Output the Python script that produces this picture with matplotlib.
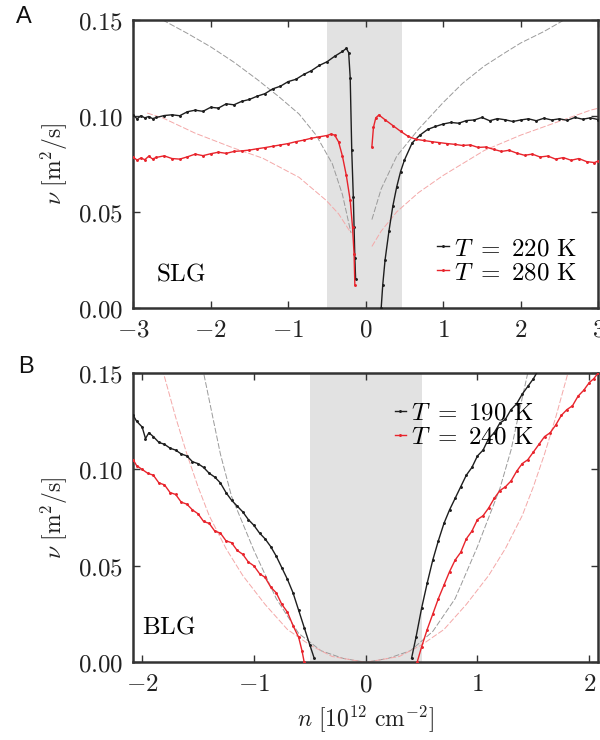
import matplotlib
matplotlib.use("Agg")
import matplotlib.pyplot as plt
from matplotlib.ticker import FuncFormatter, FixedLocator

plt.rcParams['mathtext.fontset'] = 'cm'
plt.rcParams['font.family'] = ['DejaVu Sans']

# ---------------- Panel A (SLG) ----------------
a_blk_left_x = [-3.0, -2.95, -2.9, -2.85, -2.8, -2.75, -2.7, -2.6, -2.5, -2.4, -2.3, -2.2, -2.1, -2.0,
                -1.9, -1.8, -1.7, -1.6, -1.5, -1.4, -1.3, -1.2, -1.1, -1.0, -0.9, -0.8, -0.7, -0.6,
                -0.5, -0.4, -0.3, -0.25, -0.22, -0.20, -0.18, -0.16, -0.15, -0.14, -0.13]
a_blk_left_y = [0.1005, 0.0985, 0.1001, 0.0990, 0.0997, 0.0986, 0.0992, 0.1002, 0.1006, 0.1001, 0.1022,
                0.1030, 0.1024, 0.1045, 0.1041, 0.1063, 0.1058, 0.1076, 0.1086, 0.1103, 0.1116,
                0.1141, 0.1155, 0.1179, 0.1191, 0.1216, 0.1236, 0.1263, 0.1282, 0.1311, 0.1336,
                0.1352, 0.1330, 0.1200, 0.0820, 0.0580, 0.0420, 0.0260, 0.0150]
a_blk_right_x = [0.20, 0.22, 0.25, 0.30, 0.35, 0.40, 0.45, 0.50, 0.60, 0.70, 0.80, 0.90, 1.0, 1.1, 1.2,
                 1.3, 1.4, 1.5, 1.6, 1.7, 1.8, 1.9, 2.0, 2.1, 2.2, 2.3, 2.4, 2.5, 2.6, 2.7, 2.8, 2.9, 3.0]
a_blk_right_y = [0.0000, 0.0120, 0.0250, 0.0400, 0.0530, 0.0630, 0.0710, 0.0770, 0.0860, 0.0900, 0.0930,
                 0.0945, 0.0958, 0.0966, 0.0962, 0.0976, 0.0979, 0.0992, 0.0975, 0.0986, 0.0980, 0.0971,
                 0.0979, 0.0985, 0.0975, 0.0988, 0.0979, 0.0985, 0.0977, 0.0992, 0.0983, 0.0990, 0.0981]
a_red_left_x = [-3.0, -2.95, -2.9, -2.85, -2.8, -2.75, -2.7, -2.6, -2.5, -2.4, -2.3, -2.2, -2.1, -2.0,
                -1.9, -1.8, -1.7, -1.6, -1.5, -1.4, -1.3, -1.2, -1.1, -1.0, -0.9, -0.8, -0.7, -0.6,
                -0.5, -0.45, -0.40, -0.35, -0.30, -0.25, -0.20, -0.17, -0.15, -0.14]
a_red_left_y = [0.0785, 0.0770, 0.0781, 0.0772, 0.0790, 0.0776, 0.0784, 0.0792, 0.0778, 0.0775, 0.0787,
                0.0801, 0.0793, 0.0803, 0.0811, 0.0805, 0.0815, 0.0818, 0.0822, 0.0829, 0.0835,
                0.0842, 0.0849, 0.0856, 0.0866, 0.0874, 0.0884, 0.0891, 0.0898, 0.0905, 0.0900,
                0.0865, 0.0790, 0.0690, 0.0560, 0.0420, 0.0280, 0.0120]
a_red_right_x = [0.08, 0.10, 0.13, 0.17, 0.25, 0.35, 0.45, 0.55, 0.65, 0.75, 0.85, 0.95, 1.05, 1.15,
                 1.25, 1.35, 1.45, 1.55, 1.65, 1.75, 1.85, 1.95, 2.05, 2.15, 2.25, 2.35, 2.45, 2.55,
                 2.65, 2.75, 2.85, 2.95, 3.0]
a_red_right_y = [0.0840, 0.0940, 0.0990, 0.1005, 0.0980, 0.0950, 0.0920, 0.0893, 0.0878, 0.0872, 0.0866,
                 0.0861, 0.0856, 0.0852, 0.0846, 0.0849, 0.0836, 0.0838, 0.0826, 0.0815, 0.0821, 0.0806,
                 0.0795, 0.0801, 0.0786, 0.0791, 0.0775, 0.0783, 0.0769, 0.0778, 0.0762, 0.0757, 0.0765]
# theory curves (panel A)
a_thb_left_x = [-2.62, -2.3, -2.0, -1.7, -1.4, -1.12, -0.86, -0.64, -0.43, -0.3, -0.19]
a_thb_left_y = [0.150, 0.143, 0.136, 0.128, 0.119, 0.110, 0.101, 0.090, 0.075, 0.059, 0.039]
a_thb_right_x = [0.08, 0.2, 0.4, 0.68, 1.0, 1.25, 1.53, 1.8, 2.0, 2.3, 2.56, 2.8]
a_thb_right_y = [0.046, 0.062, 0.079, 0.093, 0.107, 0.117, 0.126, 0.133, 0.138, 0.144, 0.150, 0.155]
a_thr_left_x = [-2.82, -2.62, -2.2, -1.72, -1.33, -0.86, -0.51, -0.35, -0.19]
a_thr_left_y = [0.1015, 0.0990, 0.0910, 0.0835, 0.0780, 0.0680, 0.0560, 0.0490, 0.0390]
a_thr_right_x = [0.08, 0.2, 0.4, 0.68, 1.0, 1.53, 2.0, 2.38, 2.9, 3.0]
a_thr_right_y = [0.032, 0.040, 0.050, 0.060, 0.069, 0.082, 0.090, 0.0955, 0.103, 0.104]

# ---------------- Panel B (BLG) ----------------
b_blk_left_x = [-2.08, -2.05, -2.0, -1.97, -1.94, -1.9, -1.85, -1.8, -1.75, -1.7, -1.65, -1.6, -1.55,
                -1.5, -1.45, -1.4, -1.35, -1.3, -1.25, -1.2, -1.15, -1.1, -1.05, -1.0, -0.95, -0.9,
                -0.85, -0.8, -0.75, -0.7, -0.65, -0.6, -0.55, -0.5, -0.46]
b_blk_left_y = [0.128, 0.125, 0.122, 0.116, 0.119, 0.117, 0.114, 0.113, 0.111, 0.110, 0.108, 0.107,
                0.104, 0.103, 0.101, 0.098, 0.096, 0.093, 0.088, 0.084, 0.081, 0.078, 0.074, 0.071,
                0.067, 0.064, 0.060, 0.055, 0.049, 0.043, 0.036, 0.027, 0.018, 0.009, 0.002]
b_blk_right_x = [0.41, 0.45, 0.50, 0.55, 0.60, 0.65, 0.70, 0.75, 0.80, 0.85, 0.90, 0.95, 1.0, 1.05,
                 1.1, 1.15, 1.2, 1.25, 1.3, 1.35, 1.4, 1.45, 1.5, 1.55]
b_blk_right_y = [0.002, 0.013, 0.028, 0.041, 0.053, 0.063, 0.072, 0.079, 0.085, 0.091, 0.097, 0.101,
                 0.107, 0.110, 0.116, 0.119, 0.124, 0.126, 0.131, 0.134, 0.139, 0.143, 0.147, 0.152]
b_red_left_x = [-2.08, -2.05, -2.0, -1.95, -1.9, -1.85, -1.8, -1.75, -1.7, -1.65, -1.6, -1.55, -1.5,
                -1.45, -1.4, -1.35, -1.3, -1.25, -1.2, -1.15, -1.1, -1.05, -1.0, -0.95, -0.9, -0.85,
                -0.8, -0.75, -0.7, -0.65, -0.6, -0.57, -0.55]
b_red_left_y = [0.105, 0.102, 0.100, 0.098, 0.097, 0.093, 0.092, 0.088, 0.087, 0.083, 0.082, 0.079,
                0.077, 0.073, 0.072, 0.068, 0.067, 0.063, 0.062, 0.058, 0.056, 0.052, 0.050, 0.046,
                0.044, 0.039, 0.036, 0.030, 0.026, 0.019, 0.013, 0.006, 0.000]
b_red_right_x = [0.46, 0.50, 0.55, 0.60, 0.65, 0.70, 0.75, 0.80, 0.85, 0.90, 0.95, 1.0, 1.05, 1.1,
                 1.15, 1.2, 1.25, 1.3, 1.35, 1.4, 1.45, 1.5, 1.55, 1.6, 1.65, 1.7, 1.75, 1.8, 1.85,
                 1.9, 1.95, 2.0, 2.04, 2.08]
b_red_right_y = [0.000, 0.008, 0.017, 0.025, 0.033, 0.040, 0.047, 0.053, 0.057, 0.064, 0.068, 0.074,
                 0.076, 0.080, 0.085, 0.089, 0.091, 0.094, 0.099, 0.103, 0.105, 0.109, 0.113, 0.117,
                 0.119, 0.123, 0.128, 0.131, 0.133, 0.138, 0.141, 0.145, 0.147, 0.150]
# theory curves (panel B)
b_thb_x = [-1.50, -1.45, -1.4, -1.3, -1.2, -1.0, -0.8, -0.6, -0.4, -0.2, 0.0,
           0.2, 0.4, 0.6, 0.8, 1.0, 1.2, 1.3, 1.4, 1.45, 1.50]
b_thb_y = [0.165, 0.150, 0.136, 0.108, 0.086, 0.058, 0.033, 0.015, 0.006, 0.002, 0.000,
           0.002, 0.006, 0.016, 0.033, 0.060, 0.090, 0.110, 0.137, 0.150, 0.165]
b_thr_x = [-1.85, -1.8, -1.7, -1.6, -1.5, -1.4, -1.25, -1.1, -0.9, -0.7, -0.5, -0.3, 0.0,
           0.3, 0.5, 0.7, 0.9, 1.1, 1.25, 1.4, 1.5, 1.6, 1.7, 1.8, 1.85]
b_thr_y = [0.160, 0.148, 0.127, 0.108, 0.091, 0.076, 0.059, 0.045, 0.030, 0.017, 0.009, 0.003, 0.000,
           0.003, 0.009, 0.017, 0.030, 0.045, 0.059, 0.076, 0.091, 0.108, 0.127, 0.148, 0.160]

a_xticks = [-3, -2, -1, 0, 1, 2, 3]
b_xticks = [-2, -1, 0, 1, 2]
y_ticks = [0.0, 0.05, 0.10, 0.15]

BLK = '#1e1e1e'
RED = '#e8242c'
THB = '#9a9a9a'
THR = '#f4a8a8'
SHADE = '#e2e2e2'
SPINE = '#333333'
FS = 18
LFS = 17

fig = plt.figure(figsize=(6.0, 7.4), dpi=100)
axA = fig.add_axes([0.222, 0.584, 0.775, 0.389])
axB = fig.add_axes([0.222, 0.105, 0.775, 0.391])

def style(ax, xticks, xlim):
    ax.set_xlim(*xlim)
    ax.set_ylim(0, 0.15)
    ax.xaxis.set_major_locator(FixedLocator(xticks))
    ax.yaxis.set_major_locator(FixedLocator(y_ticks))
    ax.xaxis.set_major_formatter(FuncFormatter(lambda v, p: r'$%d$' % round(v)))
    ax.yaxis.set_major_formatter(FuncFormatter(lambda v, p: r'$%.2f$' % v))
    ax.tick_params(direction='in', top=True, right=True, length=5, width=1,
                   labelsize=FS, colors=SPINE, labelcolor='#222222', pad=7)
    for s in ax.spines.values():
        s.set_linewidth(1.8)
        s.set_color(SPINE)
    ax.set_ylabel(r'$\nu\ [\mathrm{m}^2/\mathrm{s}]$', fontsize=LFS, labelpad=6, color='#222222')

def data(ax, x, y, c, label=None):
    ax.plot(x, y, '-', color=c, lw=1.0, marker='.', ms=2.2, label=label, zorder=3)

# Panel A
axA.axvspan(-0.5, 0.47, color=SHADE, lw=0, zorder=0)
for xs, ys in [(a_thb_left_x, a_thb_left_y), (a_thb_right_x, a_thb_right_y)]:
    axA.plot(xs, ys, color=THB, lw=0.7, dashes=(6, 2), zorder=2)
for xs, ys in [(a_thr_left_x, a_thr_left_y), (a_thr_right_x, a_thr_right_y)]:
    axA.plot(xs, ys, color=THR, lw=0.7, dashes=(6, 2), zorder=2)
data(axA, a_blk_left_x, a_blk_left_y, BLK, r'$T\ =\ 220\ \mathrm{K}$')
data(axA, a_blk_right_x, a_blk_right_y, BLK)
data(axA, a_red_left_x, a_red_left_y, RED, r'$T\ =\ 280\ \mathrm{K}$')
data(axA, a_red_right_x, a_red_right_y, RED)
style(axA, a_xticks, (-3, 3))
axA.text(0.05, 0.12, r'$\mathrm{SLG}$', transform=axA.transAxes, fontsize=FS, va='center', ha='left')
axA.legend(loc='lower right', bbox_to_anchor=(0.985, 0.03), frameon=False, fontsize=FS,
           handlelength=0.45, handletextpad=0.2, labelspacing=0.0, borderaxespad=0.2)

# Panel B
axB.axvspan(-0.5, 0.5, color=SHADE, lw=0, zorder=0)
axB.plot(b_thb_x, b_thb_y, color=THB, lw=0.7, dashes=(6, 2), zorder=2)
axB.plot(b_thr_x, b_thr_y, color=THR, lw=0.7, dashes=(6, 2), zorder=2)
data(axB, b_blk_left_x, b_blk_left_y, BLK, r'$T\ =\ 190\ \mathrm{K}$')
data(axB, b_blk_right_x, b_blk_right_y, BLK)
data(axB, b_red_left_x, b_red_left_y, RED, r'$T\ =\ 240\ \mathrm{K}$')
data(axB, b_red_right_x, b_red_right_y, RED)
style(axB, b_xticks, (-2.08, 2.08))
axB.text(0.02, 0.125, r'$\mathrm{BLG}$', transform=axB.transAxes, fontsize=FS, va='center', ha='left')
axB.set_xlabel(r'$n\ [10^{12}\ \mathrm{cm}^{-2}]$', fontsize=LFS, color='#222222', labelpad=5)
axB.legend(loc='upper left', bbox_to_anchor=(0.53, 0.955), frameon=False, fontsize=FS,
           handlelength=0.45, handletextpad=0.2, labelspacing=0.0, borderaxespad=0.2)

fig.text(0.040, 0.977, 'A', fontsize=17, family='Liberation Sans', ha='center', va='center', color='#111111')
fig.text(0.043, 0.504, 'B', fontsize=17, family='Liberation Sans', ha='center', va='center', color='#111111')

fig.savefig('out.png', dpi=100)
